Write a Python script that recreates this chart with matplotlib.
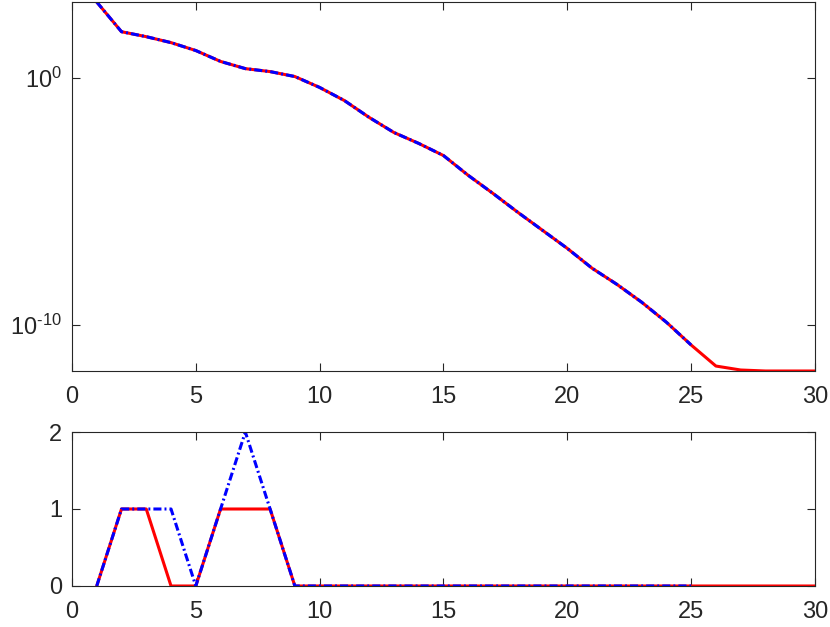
import numpy as np
import matplotlib
matplotlib.use('Agg')
from matplotlib import pyplot as plt

plt.rcParams['font.family'] = ['Liberation Sans', 'DejaVu Sans']
plt.rcParams['mathtext.fontset'] = 'custom'
plt.rcParams['mathtext.rm'] = 'Liberation Sans'
plt.rcParams['mathtext.it'] = 'Liberation Sans'
plt.rcParams['lines.scale_dashes'] = False

# iteration index
it_red = np.arange(1, 31)
it_blue = np.arange(1, 26)

# log10 of the residual (top panel)
log_res = [3.05, 1.85, 1.65, 1.41, 1.09, 0.65, 0.36, 0.24, 0.04, -0.40,
           -0.93, -1.61, -2.22, -2.66, -3.15, -3.95, -4.68, -5.44, -6.17, -6.90,
           -7.70, -8.35, -9.07, -9.88, -10.8, -11.65, -11.81, -11.85, -11.85, -11.85]
res_red = 10.0 ** np.array(log_res)
res_blue = res_red[:25]

# bottom panel counts
cnt_red = [0, 1, 1, 0, 0, 1, 1, 1, 0] + [0] * 21
cnt_blue = [0, 1, 1, 1, 0, 1, 2, 1, 0] + [0] * 16

axcol = '#262626'
fig = plt.figure(figsize=(8.3, 6.27), dpi=100)
ax1 = fig.add_axes([0.0867, 0.4083, 0.8952, 0.5885])
ax2 = fig.add_axes([0.0867, 0.0654, 0.8952, 0.2456])

dash = (0, (5.8, 2.2, 1.4, 2.2))
ax1.plot(it_red, res_red, color='red', lw=2.2)
ax1.plot(it_blue, res_blue, color='blue', lw=2.2, linestyle=dash)
ax1.set_yscale('log')
ax1.set_xlim(0, 30)
ax1.set_ylim(10 ** -11.85, 10 ** 3.05)
ax1.set_yticks([1e-10, 1e0])
ax1.set_yticklabels([r'$10^{\text{-10}}$', '$10^{0}$'])
ax1.yaxis.set_minor_locator(matplotlib.ticker.NullLocator())
ax1.set_xticks(range(0, 31, 5))

ax2.plot(it_red, cnt_red, color='red', lw=2.2)
ax2.plot(it_blue, cnt_blue, color='blue', lw=2.2, linestyle=dash)
ax2.set_xlim(0, 30)
ax2.set_ylim(0, 2)
ax2.set_yticks([0, 1, 2])
ax2.set_xticks(range(0, 31, 5))

for ax in (ax1, ax2):
    ax.tick_params(direction='in', top=True, right=True, length=6, width=0.8,
                   colors=axcol, labelsize=17, labelcolor=axcol)
    ax.tick_params(axis='x', pad=10.5)
    ax.tick_params(axis='y', pad=7)
    for s in ax.spines.values():
        s.set_color(axcol)
        s.set_linewidth(0.8)

fig.savefig('out.png', dpi=100)
